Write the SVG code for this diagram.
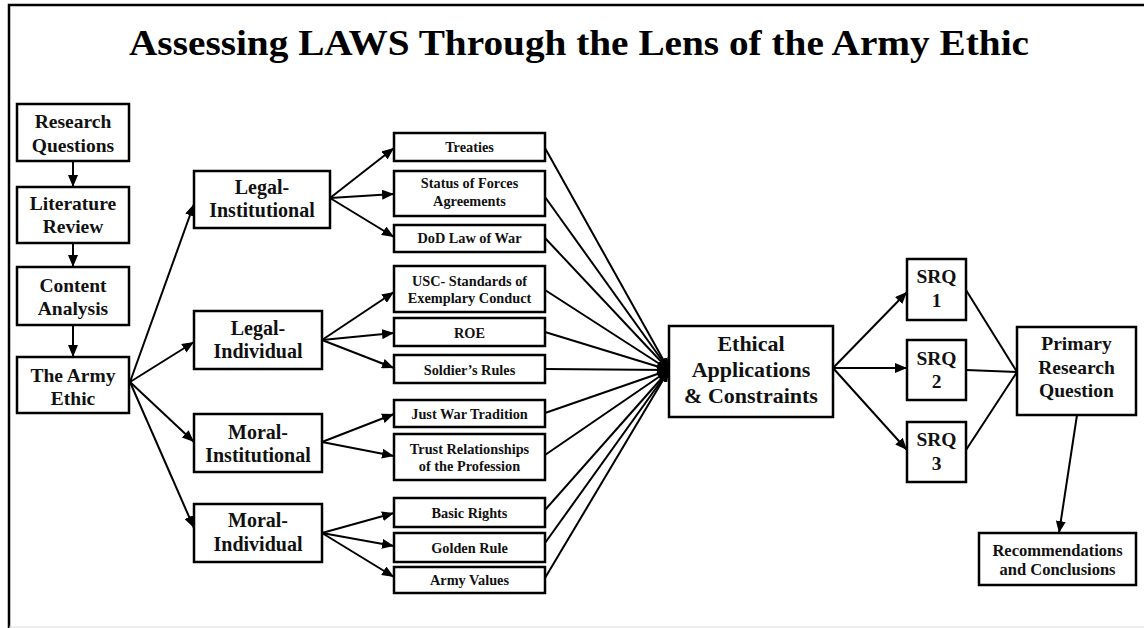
<svg xmlns="http://www.w3.org/2000/svg" width="1144" height="628" viewBox="0 0 1144 628">
<defs>
<marker id="ah" viewBox="0 0 12 10" refX="12" refY="5" markerWidth="12" markerHeight="10" markerUnits="userSpaceOnUse" orient="auto">
<path d="M0,0 L12,5 L0,10 Z" fill="#000"/>
</marker>
<style>
.box{fill:#fff;stroke:#000;stroke-width:2.5}
.t{font-family:"Liberation Serif","Times New Roman",serif;font-weight:bold;fill:#111;text-anchor:middle}
.lg{font-size:19.5px}
.md{font-size:20px}
.sm{font-size:14.3px}
.ea{font-size:22px}
.rc{font-size:16.5px}
.ln{stroke:#000;stroke-width:2;fill:none}
.ar{stroke:#000;stroke-width:2;fill:none;marker-end:url(#ah)}
</style>
</defs>
<rect width="1144" height="628" fill="#fff"/>
<path d="M1144,5 H9 V628" fill="none" stroke="#000" stroke-width="2.5"/>
<line x1="9" y1="627" x2="1144" y2="627" stroke="#ddd" stroke-width="1"/>
<text x="579" y="55" font-family="'Liberation Serif','Times New Roman',serif" font-weight="bold" font-size="36" text-anchor="middle" textLength="900" lengthAdjust="spacingAndGlyphs" fill="#000">Assessing LAWS Through the Lens of the Army Ethic</text>

<g id="connectors">
<line class="ar" x1="73" y1="161" x2="73" y2="187"/>
<line class="ar" x1="73" y1="243" x2="73" y2="267"/>
<line class="ar" x1="73" y1="325" x2="73" y2="357"/>
<line class="ar" x1="130" y1="382" x2="194" y2="204"/>
<line class="ar" x1="130" y1="382" x2="194" y2="342"/>
<line class="ar" x1="130" y1="382" x2="194" y2="442"/>
<line class="ar" x1="130" y1="382" x2="194" y2="528"/>
<line class="ar" x1="330" y1="198" x2="394" y2="148"/>
<line class="ar" x1="330" y1="198" x2="394" y2="194"/>
<line class="ar" x1="330" y1="198" x2="394" y2="237"/>
<line class="ar" x1="322" y1="340" x2="394" y2="292"/>
<line class="ar" x1="322" y1="340" x2="394" y2="333"/>
<line class="ar" x1="322" y1="340" x2="394" y2="368"/>
<line class="ar" x1="322" y1="442" x2="394" y2="414"/>
<line class="ar" x1="322" y1="442" x2="394" y2="456"/>
<line class="ar" x1="322" y1="533" x2="394" y2="513"/>
<line class="ar" x1="322" y1="533" x2="394" y2="546"/>
<line class="ar" x1="322" y1="533" x2="394" y2="577"/>
<line class="ar" x1="545" y1="148" x2="669" y2="370"/>
<line class="ar" x1="545" y1="197" x2="669" y2="370"/>
<line class="ar" x1="545" y1="238" x2="669" y2="370"/>
<line class="ar" x1="545" y1="290" x2="669" y2="370"/>
<line class="ar" x1="545" y1="332" x2="669" y2="370"/>
<line class="ar" x1="545" y1="369" x2="669" y2="370"/>
<line class="ar" x1="545" y1="413" x2="669" y2="370"/>
<line class="ar" x1="545" y1="455" x2="669" y2="370"/>
<line class="ar" x1="545" y1="510" x2="669" y2="370"/>
<line class="ar" x1="545" y1="543" x2="669" y2="370"/>
<line class="ar" x1="545" y1="578" x2="669" y2="370"/>
<line class="ar" x1="833" y1="368" x2="907" y2="292"/>
<line class="ar" x1="833" y1="368" x2="907" y2="368"/>
<line class="ar" x1="833" y1="368" x2="907" y2="450"/>
<line class="ln" x1="966" y1="290" x2="1017" y2="372"/>
<line class="ln" x1="966" y1="370" x2="1017" y2="372"/>
<line class="ln" x1="966" y1="450" x2="1017" y2="372"/>
<line class="ar" x1="1077" y1="415" x2="1059" y2="533"/>
</g>

<g id="research-questions"><rect class="box" x="17" y="104" width="112" height="57"/><text class="t lg" x="73" y="128">Research</text><text class="t lg" x="73" y="152">Questions</text></g>
<g id="literature-review"><rect class="box" x="17" y="187" width="112" height="56"/><text class="t lg" x="73" y="210">Literature</text><text class="t lg" x="73" y="233">Review</text></g>
<g id="content-analysis"><rect class="box" x="17" y="267" width="112" height="58"/><text class="t lg" x="73" y="292">Content</text><text class="t lg" x="73" y="315">Analysis</text></g>
<g id="army-ethic"><rect class="box" x="17" y="357" width="112" height="56"/><text class="t lg" x="73" y="382">The Army</text><text class="t lg" x="73" y="405">Ethic</text></g>

<g id="legal-institutional"><rect class="box" x="194" y="171" width="136" height="57"/><text class="t md" x="262" y="194">Legal-</text><text class="t md" x="262" y="217">Institutional</text></g>
<g id="legal-individual"><rect class="box" x="194" y="311" width="128" height="58"/><text class="t md" x="258" y="335">Legal-</text><text class="t md" x="258" y="358">Individual</text></g>
<g id="moral-institutional"><rect class="box" x="194" y="414" width="128" height="58"/><text class="t md" x="258" y="439">Moral-</text><text class="t md" x="258" y="462">Institutional</text></g>
<g id="moral-individual"><rect class="box" x="194" y="504" width="128" height="58"/><text class="t md" x="258" y="527">Moral-</text><text class="t md" x="258" y="551">Individual</text></g>

<g id="treaties"><rect class="box" x="394" y="133" width="151" height="28"/><text class="t sm" x="469.5" y="152">Treaties</text></g>
<g id="sofa"><rect class="box" x="394" y="171" width="151" height="45"/><text class="t sm" x="469.5" y="188">Status of Forces</text><text class="t sm" x="469.5" y="206">Agreements</text></g>
<g id="dod-law-of-war"><rect class="box" x="394" y="225" width="151" height="27"/><text class="t sm" x="469.5" y="243">DoD Law of War</text></g>
<g id="usc"><rect class="box" x="394" y="266" width="151" height="46"/><text class="t sm" x="469.5" y="286">USC- Standards of</text><text class="t sm" x="469.5" y="303">Exemplary Conduct</text></g>
<g id="roe"><rect class="box" x="394" y="318" width="151" height="28"/><text class="t sm" x="469.5" y="338">ROE</text></g>
<g id="soldiers-rules"><rect class="box" x="394" y="355" width="151" height="28"/><text class="t sm" x="469.5" y="375">Soldier’s Rules</text></g>
<g id="just-war"><rect class="box" x="394" y="400" width="151" height="27"/><text class="t sm" x="469.5" y="419">Just War Tradition</text></g>
<g id="trust"><rect class="box" x="394" y="434" width="151" height="46"/><text class="t sm" x="469.5" y="454">Trust Relationships</text><text class="t sm" x="469.5" y="471">of the Profession</text></g>
<g id="basic-rights"><rect class="box" x="394" y="498" width="151" height="29"/><text class="t sm" x="469.5" y="518">Basic Rights</text></g>
<g id="golden-rule"><rect class="box" x="394" y="533" width="151" height="29"/><text class="t sm" x="469.5" y="553">Golden Rule</text></g>
<g id="army-values"><rect class="box" x="394" y="567" width="151" height="26"/><text class="t sm" x="469.5" y="585">Army Values</text></g>

<g id="ethical"><rect class="box" x="669" y="326" width="164" height="91"/><text class="t ea" x="751" y="351">Ethical</text><text class="t ea" x="751" y="377">Applications</text><text class="t ea" x="751" y="403">&amp; Constraints</text></g>

<g id="srq1"><rect class="box" x="907" y="259" width="59" height="61"/><text class="t lg" x="936.5" y="283">SRQ</text><text class="t lg" x="936.5" y="307">1</text></g>
<g id="srq2"><rect class="box" x="907" y="340" width="59" height="60"/><text class="t lg" x="936.5" y="365">SRQ</text><text class="t lg" x="936.5" y="388">2</text></g>
<g id="srq3"><rect class="box" x="907" y="422" width="59" height="60"/><text class="t lg" x="936.5" y="446">SRQ</text><text class="t lg" x="936.5" y="470">3</text></g>

<g id="primary"><rect class="box" x="1017" y="327" width="119" height="88"/><text class="t lg" x="1076.5" y="350">Primary</text><text class="t lg" x="1076.5" y="374">Research</text><text class="t lg" x="1076.5" y="397">Question</text></g>
<g id="recommendations"><rect class="box" x="979" y="533" width="157" height="52"/><text class="t rc" x="1057.5" y="556">Recommendations</text><text class="t rc" x="1057.5" y="575">and Conclusions</text></g>
</svg>
